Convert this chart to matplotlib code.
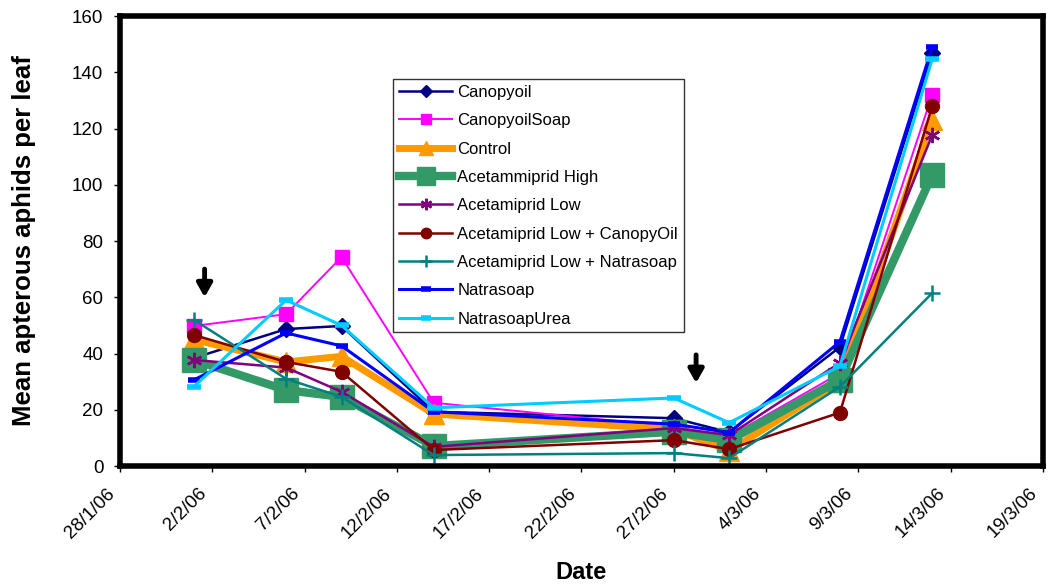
import matplotlib
matplotlib.use("Agg")
import matplotlib.pyplot as plt
import matplotlib.transforms as mtransforms
import numpy as np
from datetime import datetime

plt.rcParams['font.family'] = ['Liberation Sans', 'DejaVu Sans']

dates = ["2006-02-01", "2006-02-06", "2006-02-09", "2006-02-14",
         "2006-02-27", "2006-03-02", "2006-03-08", "2006-03-13"]

canopyoil       = [38.4, 48.7, 49.8, 19.3, 17.0, 12.0, 42.3, 147.0]
canopyoil_soap  = [49.8, 54.0, 74.3, 22.5, 14.0, 10.5, 33.0, 132.0]
control         = [45.0, 37.0, 39.0, 18.5, 13.0, 5.5, 30.0, 123.0]
acet_high       = [37.7, 27.0, 24.6, 7.1, 12.2, 9.2, 30.6, 103.5]
acet_low        = [37.7, 35.0, 26.4, 6.8, 13.5, 11.0, 36.7, 117.7]
acet_low_canopy = [46.6, 37.0, 33.5, 5.7, 9.2, 6.0, 19.0, 128.0]
acet_low_natra  = [52.0, 31.0, 24.6, 3.9, 4.6, 2.8, 28.2, 61.5]
natrasoap       = [30.6, 47.3, 42.7, 19.3, 14.9, 11.9, 44.2, 149.0]
natrasoap_urea  = [28.2, 59.0, 50.0, 20.7, 24.2, 15.4, 35.5, 144.7]

tick_dates = ["2006-01-28", "2006-02-02", "2006-02-07", "2006-02-12", "2006-02-17",
              "2006-02-22", "2006-02-27", "2006-03-04", "2006-03-09", "2006-03-14",
              "2006-03-19"]
tick_labels = ["28/1/06", "2/2/06", "7/2/06", "12/2/06", "17/2/06", "22/2/06",
               "27/2/06", "4/3/06", "9/3/06", "14/3/06", "19/3/06"]

x = [datetime.strptime(d, "%Y-%m-%d") for d in dates]
xt = [datetime.strptime(d, "%Y-%m-%d") for d in tick_dates]

fig = plt.figure(figsize=(10.48, 5.84), dpi=100)
ax = fig.add_axes([0.1145, 0.202, 0.8807, 0.7706])

asterisk = (6, 2, 0)
series = [
    ("Canopyoil", canopyoil, dict(color="#000080", lw=1.8, marker="D", ms=8)),
    ("CanopyoilSoap", canopyoil_soap, dict(color="#FF00FF", lw=1.4, marker="s", ms=10)),
    ("Control", control, dict(color="#FF9900", lw=5, marker="^", ms=14)),
    ("Acetammiprid High", acet_high, dict(color="#339966", lw=6, marker="s", ms=17)),
    ("Acetamiprid Low", acet_low, dict(color="#800080", lw=1.8, marker=asterisk, ms=11, mew=1.8)),
    ("Acetamiprid Low + CanopyOil", acet_low_canopy, dict(color="#800000", lw=1.8, marker="o", ms=10)),
    ("Acetamiprid Low + Natrasoap", acet_low_natra, dict(color="#008080", lw=1.8, marker="+", ms=11, mew=1.8)),
    ("Natrasoap", natrasoap, dict(color="#0000FF", lw=2.2, marker="_", ms=9, mew=4)),
    ("NatrasoapUrea", natrasoap_urea, dict(color="#00CCFF", lw=2.2, marker="_", ms=10, mew=4)),
]
for label, vals, st in series:
    ax.plot(x, vals, label=label, **st)

ax.set_xlim(xt[0], xt[-1])
ax.set_ylim(0, 160)
ax.set_yticks(np.arange(0, 161, 20))
ax.set_xticks(xt)
ax.set_xticklabels(tick_labels, rotation=45, ha="right", va="center", rotation_mode="anchor")
ax.tick_params(axis="both", labelsize=13.5, direction="out", length=4, width=1)
ax.tick_params(axis="x", pad=14)
ax.tick_params(axis="y", pad=8)
offset = mtransforms.ScaledTranslation(-8 / 100, 0, fig.dpi_scale_trans)
for lab in ax.get_xticklabels():
    lab.set_transform(lab.get_transform() + offset)
for sp in ax.spines.values():
    sp.set_linewidth(4)
    sp.set_color("black")

ax.set_ylabel("Mean apterous aphids per leaf", fontsize=18.5, fontweight="bold", labelpad=26)
ax.set_xlabel("Date", fontsize=17, fontweight="bold", labelpad=14)

ax.annotate("", xy=(datetime(2006, 2, 1, 14), 59), xytext=(datetime(2006, 2, 1, 14), 71),
            arrowprops=dict(arrowstyle="-|>,head_width=0.45,head_length=0.8", color="black", lw=3.5))
ax.annotate("", xy=(datetime(2006, 2, 28, 5), 28.5), xytext=(datetime(2006, 2, 28, 5), 40.5),
            arrowprops=dict(arrowstyle="-|>,head_width=0.45,head_length=0.8", color="black", lw=3.5))

leg = ax.legend(loc="upper left", bbox_to_anchor=(0.2958, 0.86), fontsize=12,
                frameon=True, fancybox=False, edgecolor="black", handlelength=3.2,
                labelspacing=0.8, borderpad=0.35, borderaxespad=0, handletextpad=0.3,
                markerscale=0.75)
leg.get_frame().set_linewidth(1)

fig.savefig("out.png", dpi=100)
